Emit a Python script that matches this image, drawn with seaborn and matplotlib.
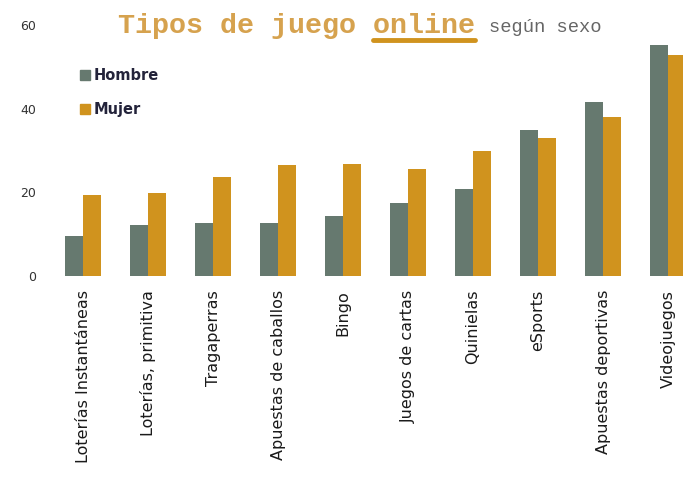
import numpy as np
import pandas as pd
import seaborn as sns
import matplotlib.pyplot as plt
from matplotlib.lines import Line2D

# Valores (%)
categorias = ['Loterías Instantáneas', 'Loterías, primitiva', 'Tragaperras',
              'Apuestas de caballos', 'Bingo', 'Juegos de cartas', 'Quinielas',
              'eSports', 'Apuestas deportivas', 'Videojuegos']
hombre = [9.5, 12.1, 12.6, 12.6, 14.3, 17.4, 20.7, 35.0, 41.7, 55.2]
mujer = [19.3, 19.8, 23.6, 26.5, 26.7, 25.5, 30.0, 32.9, 38.1, 52.9]
series = ['Hombre', 'Mujer']
colores = {'Hombre': '#66796F', 'Mujer': '#D0931E'}

df = pd.DataFrame({'categoria': categorias, 'Hombre': hombre, 'Mujer': mujer})
df = df.melt(id_vars='categoria', var_name='sexo', value_name='valor')

sns.set_theme(style='white')

fig = plt.figure(figsize=(6.83, 4.83), dpi=100)
ax = fig.add_axes([50 / 683, 207 / 483, 1 - 50 / 683, 251 / 483])

sns.barplot(data=df, x='categoria', y='valor', hue='sexo', hue_order=series,
            palette=colores, width=0.56, saturation=1, linewidth=0, ax=ax)

ax.set_ylim(0, 60)
ax.set_xlim(-0.51, 9.23)
ax.set_yticks([0, 20, 40, 60])
ax.set_xlabel('')
ax.set_ylabel('')
for s in ax.spines.values():
    s.set_visible(False)
ax.tick_params(axis='y', length=0, pad=10, labelsize=9, labelcolor='#333333')
ax.tick_params(axis='x', length=0, pad=10, labelsize=11.5, labelcolor='#1a1a1a')
plt.setp(ax.get_xticklabels(), rotation=90, va='top', ha='center')

# leyenda
handles = [Line2D([], [], marker='s', ls='', markersize=7, color=colores[s]) for s in series]
ax.legend(handles, series, loc='upper left', bbox_to_anchor=(0.025, 0.88),
          frameon=False, handletextpad=0.2, labelspacing=1.3, handlelength=0.8,
          prop={'weight': 'bold', 'size': 10.5}, labelcolor='#23233a')

# titulo
titulo = fig.text(118 / 683, 1 - 26 / 483, 'Tipos de juego online', fontsize=20.4,
                  family='Liberation Mono', weight='bold', color='#D6A24E', va='center')
fig.canvas.draw()
bb = titulo.get_window_extent().transformed(fig.transFigure.inverted())
ancho = bb.x1 - bb.x0
x_on = bb.x0 + ancho * 15 / 21
fig.add_artist(Line2D([x_on, bb.x1], [1 - 40 / 483] * 2, color='#D0931E', lw=3.5,
                      transform=fig.transFigure))
fig.text(bb.x1 + 14 / 683, 1 - 27 / 483, 'según sexo', fontsize=13.5,
         family='Liberation Mono', color='#666666', va='center')

fig.savefig('out.png', dpi=100)
